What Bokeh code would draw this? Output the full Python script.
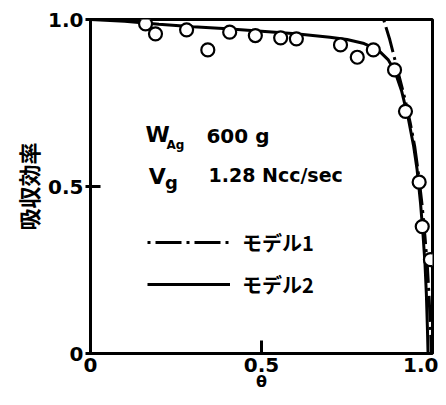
from bokeh.plotting import figure
from bokeh.models import Range1d, FixedTicker, Legend, LegendItem
from bokeh.core.properties import value
from bokeh.embed import file_html
from bokeh.resources import INLINE

# observed absorption efficiency
theta_obs = [0.161, 0.190, 0.281, 0.343, 0.407, 0.482, 0.556, 0.602, 0.731,
             0.780, 0.827, 0.889, 0.921, 0.961, 0.970, 0.994]
eff_obs = [0.987, 0.957, 0.969, 0.909, 0.962, 0.952, 0.945, 0.942, 0.924,
           0.887, 0.909, 0.849, 0.725, 0.513, 0.380, 0.281]

# model 1 (dash-dot)
theta_m1 = [0.857, 0.875, 0.89, 0.905, 0.92, 0.935, 0.948, 0.96, 0.97,
            0.978, 0.985, 0.99, 0.994, 0.997]
eff_m1 = [1.0, 0.94, 0.88, 0.82, 0.76, 0.69, 0.62, 0.53, 0.44,
          0.35, 0.26, 0.17, 0.08, 0.0]

# model 2 (solid)
theta_m2 = [0.0, 0.1, 0.2, 0.3, 0.4, 0.5, 0.6, 0.7, 0.75, 0.8, 0.84, 0.87,
            0.89, 0.91, 0.93, 0.945, 0.955, 0.965, 0.972, 0.978, 0.982, 0.985, 0.987]
eff_m2 = [1.0, 0.995, 0.986, 0.978, 0.972, 0.965, 0.957, 0.947, 0.94, 0.928, 0.91, 0.88,
          0.845, 0.785, 0.70, 0.62, 0.55, 0.45, 0.36, 0.27, 0.18, 0.08, 0.0]

ticks = [0, 0.5, 1.0]
x_tick_labels = {0: "0", 0.5: "0.5", 1: "1.0"}
y_tick_labels = {0: "0", 0.5: "0.5", 1: "1.0"}
legend_labels = ["モデル1", "モデル2"]

FONT = "DejaVu Sans"
CJK = "Noto Sans CJK JP"

p = figure(width=438, height=397, output_backend="svg", toolbar_location=None,
           x_range=Range1d(0, 1), y_range=Range1d(0, 1),
           min_border_left=90, min_border_right=6, min_border_top=19, min_border_bottom=44)
p.background_fill_color = "white"
p.border_fill_color = "white"
p.outline_line_color = "black"
p.outline_line_width = 3
p.xgrid.visible = False
p.ygrid.visible = False

for ax in (p.xaxis[0], p.yaxis[0]):
    ax.ticker = FixedTicker(ticks=ticks)
    ax.minor_tick_line_color = None
    ax.axis_line_color = None
    ax.major_tick_line_color = "black"
    ax.major_tick_line_width = 3
    ax.major_label_text_font = FONT
    ax.major_label_text_font_style = "bold"
    ax.major_label_text_font_size = "20px"
    ax.major_label_text_color = "black"
    ax.axis_label_text_color = "black"

p.xaxis[0].major_label_overrides = x_tick_labels
p.yaxis[0].major_label_overrides = y_tick_labels
p.xaxis[0].major_tick_in = 13
p.xaxis[0].major_tick_out = 0
p.xaxis[0].major_label_standoff = 4
p.yaxis[0].major_tick_in = 10
p.yaxis[0].major_tick_out = 5
p.yaxis[0].major_label_standoff = 2

p.xaxis[0].axis_label = "θ"
p.xaxis[0].axis_label_text_font = FONT
p.xaxis[0].axis_label_text_font_style = "bold"
p.xaxis[0].axis_label_text_font_size = "16px"
p.xaxis[0].axis_label_standoff = -3
p.yaxis[0].axis_label = "吸収効率"
p.yaxis[0].axis_label_text_font = CJK
p.yaxis[0].axis_label_text_font_style = "bold"
p.yaxis[0].axis_label_text_font_size = "22px"
p.yaxis[0].axis_label_standoff = 1

r1 = p.line(theta_m1, eff_m1, line_color="black", line_width=3, line_dash="3 5 26 5")
r2 = p.line(theta_m2, eff_m2, line_color="black", line_width=3)
p.scatter(theta_obs, eff_obs, marker="circle", size=13, fill_color="white",
          line_color="black", line_width=2.2)

# annotation texts
p.text(x=[0.161], y=[0.656], text=["W"], text_font=value(FONT), text_font_style="bold",
       text_font_size="22px", text_baseline="middle", text_align="left", text_color="black")
p.text(x=[0.222], y=[0.625], text=["Ag"], text_font=value(FONT), text_font_style="bold",
       text_font_size="12px", text_baseline="middle", text_align="left", text_color="black")
p.text(x=[0.339], y=[0.652], text=["600 g"], text_font=value(FONT), text_font_style="bold",
       text_font_size="20px", text_baseline="middle", text_align="left", text_color="black")
p.text(x=[0.170], y=[0.530], text=["V"], text_font=value(FONT), text_font_style="bold",
       text_font_size="22px", text_baseline="middle", text_align="left", text_color="black")
p.text(x=[0.218], y=[0.512], text=["g"], text_font=value(FONT), text_font_style="bold",
       text_font_size="18px", text_baseline="middle", text_align="left", text_color="black")
p.text(x=[0.345], y=[0.533], text=["1.28 Ncc/sec"], text_font=value(FONT), text_font_style="bold",
       text_font_size="19px", text_baseline="middle", text_align="left", text_color="black")

legend = Legend(items=[LegendItem(label=legend_labels[0], renderers=[r1]),
                       LegendItem(label=legend_labels[1], renderers=[r2])],
                location=(57, 54), orientation="vertical")
legend.glyph_width = 83
legend.glyph_height = 30
legend.label_height = 30
legend.label_standoff = 12
legend.spacing = 12
legend.padding = 0
legend.margin = 0
legend.border_line_color = None
legend.background_fill_alpha = 0
legend.label_text_font = CJK
legend.label_text_font_style = "bold"
legend.label_text_font_size = "20px"
legend.label_text_color = "black"
p.add_layout(legend, "center")

open("out.html", "w").write(file_html(p, INLINE))
